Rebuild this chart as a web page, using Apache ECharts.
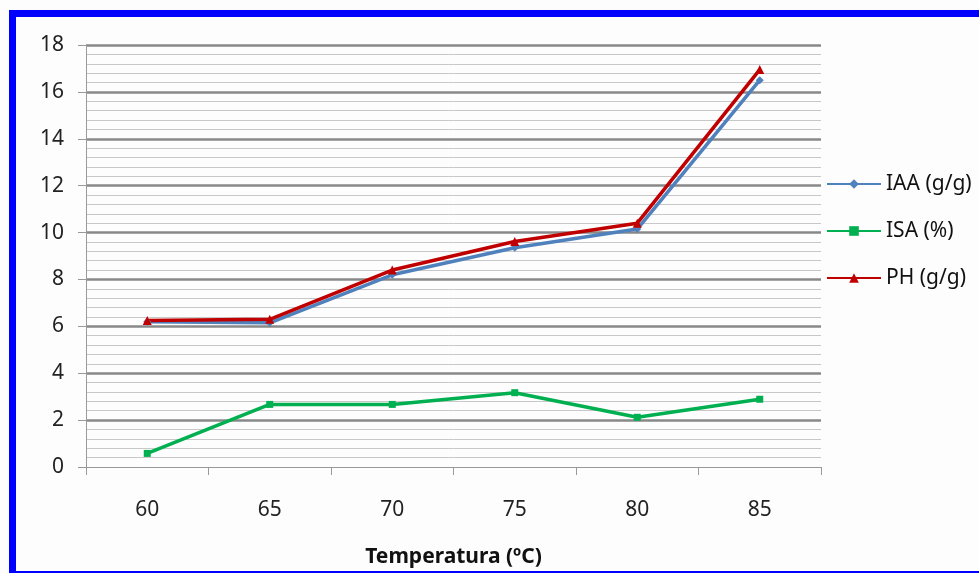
<!DOCTYPE html>
<html>
<head>
<meta charset="utf-8">
<script src="https://cdn.jsdelivr.net/npm/echarts@6/dist/echarts.min.js"></script>
<style>
  html, body { margin: 0; padding: 0; background: #fff; }
  #main { width: 979px; height: 573px; }
</style>
</head>
<body>
<div id="main"></div>
<script>
var temperatures = ['60', '65', '70', '75', '80', '85'];
var iaa = [6.2, 6.15, 8.2, 9.35, 10.15, 16.5];
var isa = [0.58, 2.67, 2.67, 3.17, 2.12, 2.89];
var ph = [6.25, 6.3, 8.4, 9.62, 10.4, 16.95];

var myChart = echarts.init(document.getElementById('main'));

var labelFont = "'Noto Sans', 'Open Sans', sans-serif";

option = {
  backgroundColor: '#fdfdfd',
  textStyle: {
    fontFamily: labelFont
  },
  grid: {
    left: 86,
    right: 158,
    top: 45,
    bottom: 106,
    outerBoundsMode: 'none',
    containLabel: false
  },
  graphic: [
    // blue frame round the chart
    { type: 'rect', shape: { x: 9, y: 10, width: 7, height: 563 }, style: { fill: '#0000ff' } },
    { type: 'rect', shape: { x: 9, y: 10, width: 970, height: 7 }, style: { fill: '#0000ff' } },
    { type: 'rect', shape: { x: 9, y: 571, width: 970, height: 2 }, style: { fill: '#0000ff' } }
  ],
  legend: {
    orient: 'vertical',
    left: 826,
    top: 173,
    padding: 0,
    itemWidth: 54,
    itemHeight: 12,
    itemGap: 25,
    textStyle: {
      fontSize: 21,
      lineHeight: 22,
      color: '#111'
    },
    data: ['IAA (g/g)', 'ISA (%)', 'PH (g/g)']
  },
  xAxis: {
    type: 'category',
    data: temperatures,
    boundaryGap: true,
    name: 'Temperatura (ºC)',
    nameLocation: 'middle',
    nameGap: 80,
    nameTextStyle: {
      fontSize: 21,
      fontWeight: 'bold',
      color: '#111'
    },
    axisLine: { lineStyle: { color: '#999', width: 1 } },
    axisTick: { show: true, length: 8, lineStyle: { color: '#999' } },
    axisLabel: {
      fontSize: 21,
      color: '#222',
      margin: 33
    },
    splitLine: { show: false }
  },
  yAxis: {
    type: 'value',
    min: 0,
    max: 18,
    interval: 2,
    axisLine: { show: true, lineStyle: { color: '#999', width: 1 } },
    axisTick: { show: true, length: 8, lineStyle: { color: '#999' } },
    axisLabel: {
      fontSize: 21,
      color: '#222',
      margin: 22
    },
    splitLine: {
      show: true,
      showMinLine: false,
      lineStyle: { color: '#888', width: 2.5 }
    },
    minorTick: { show: false, splitNumber: 5 },
    minorSplitLine: {
      show: true,
      lineStyle: { color: '#c8c8c8', width: 1 }
    }
  },
  series: [
    {
      name: 'IAA (g/g)',
      type: 'line',
      data: iaa,
      symbol: 'diamond',
      symbolSize: 8,
      lineStyle: { width: 3.5, color: '#4f81bd' },
      itemStyle: { color: '#4f81bd' }
    },
    {
      name: 'ISA (%)',
      type: 'line',
      data: isa,
      symbol: 'rect',
      symbolSize: 7,
      lineStyle: { width: 3.5, color: '#00b050' },
      itemStyle: { color: '#00b050' }
    },
    {
      name: 'PH (g/g)',
      type: 'line',
      data: ph,
      symbol: 'triangle',
      symbolSize: 9,
      lineStyle: { width: 3.5, color: '#c00000' },
      itemStyle: { color: '#c00000' }
    }
  ]
};
myChart.setOption(option);
</script>
</body>
</html>
